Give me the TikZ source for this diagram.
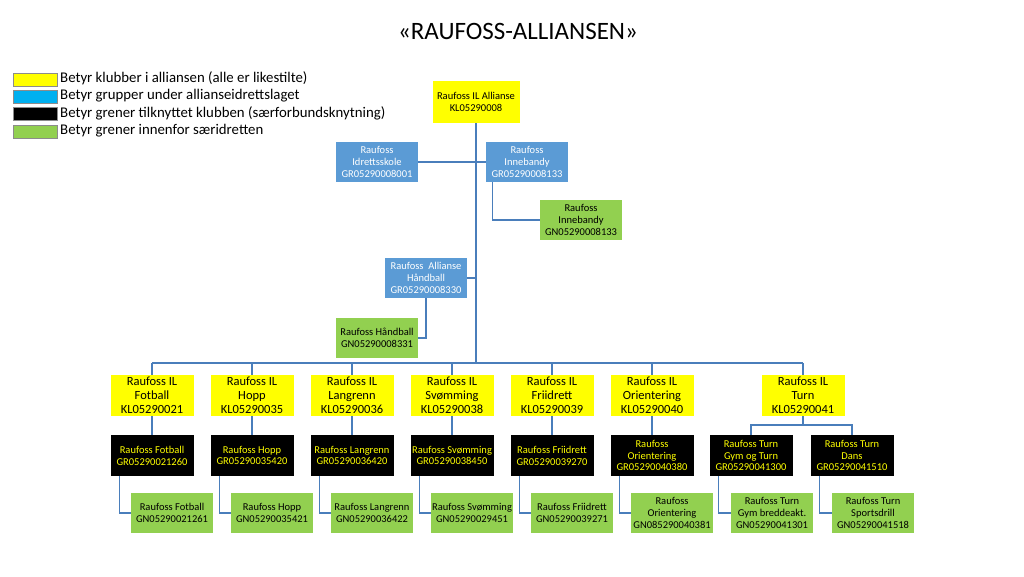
\documentclass[tikz,border=0pt]{standalone}
\usepackage{fontspec}
\setmainfont{Carlito}
\usepackage{xcolor}
\usepackage{tikz}
\usetikzlibrary{positioning,calc}
\definecolor{klubbyellow}{RGB}{255,255,0}
\definecolor{gruppeblue}{RGB}{91,155,213}
\definecolor{legendblue}{RGB}{0,176,240}
\definecolor{grengreen}{RGB}{146,208,80}
\definecolor{linjeblue}{RGB}{74,126,187}

\begin{document}
\begin{tikzpicture}[x=1pt, y=-1pt,
    klubb/.style={fill=klubbyellow, inner sep=0pt, minimum width=83, minimum height=41, align=center, font=\fontsize{12.5}{14}\selectfont},
    gruppe/.style={fill=gruppeblue, text=white, inner sep=0pt, minimum width=82, minimum height=40, align=center, font=\fontsize{10.5}{11.8}\selectfont},
    gren/.style={fill=black, text=klubbyellow, inner sep=0pt, minimum width=83, minimum height=41, align=center, font=\fontsize{10.5}{11.8}\selectfont},
    sgren/.style={fill=grengreen, inner sep=0pt, minimum width=82, minimum height=40, align=center, font=\fontsize{10.5}{11.8}\selectfont},
    swatch/.style={draw=black!45, line width=0.6pt, inner sep=0pt, minimum width=44, minimum height=13},
    legtext/.style={anchor=west, inner sep=0pt, font=\fontsize{14.8}{16}\selectfont},
    conn/.style={draw=linjeblue, line width=1.3pt}]
    \useasboundingbox (0,0) rectangle (1024,576);

    % Title
    \node[font=\fontsize{25}{28}\selectfont] (title) at (518,31) {«RAUFOSS-ALLIANSEN»};

    % Legend
    \node[swatch, fill=klubbyellow] (lega) at (35,80) {};
    \node[swatch, fill=legendblue] (legb) at (35,97) {};
    \node[swatch, fill=black] (legc) at (35,114) {};
    \node[swatch, fill=grengreen] (legd) at (35,131.5) {};
    \node[legtext] (legatxt) at (60,78.5) {Betyr klubber i alliansen (alle er likestilte)};
    \node[legtext] (legbtxt) at (60,96) {Betyr grupper under allianseidrettslaget};
    \node[legtext] (legctxt) at (60,113) {Betyr grener tilknyttet klubben (særforbundsknytning)};
    \node[legtext] (legdtxt) at (60,131) {Betyr grener innenfor særidretten};

    % Alliance and groups
    \node[klubb, minimum width=87, minimum height=42, font=\fontsize{10.5}{11.8}\selectfont] (allianse) at (476,102) {Raufoss IL Allianse\\KL05290008};
    \node[gruppe] (idrett) at (377,162) {Raufoss\\Idrettsskole\\GR05290008001};
    \node[gruppe] (inneb) at (527,162) {Raufoss\\Innebandy\\GR05290008133};
    \node[sgren] (innebgn) at (581,220) {Raufoss\\Innebandy\\GN05290008133};
    \node[gruppe] (handb) at (426,278) {Raufoss\ \ Allianse\\Håndball\\GR05290008330};
    \node[sgren] (handbgn) at (377,338) {Raufoss Håndball\\GN05290008331};

    % Clubs
    \node[klubb] (fotball) at (152,395.5) {Raufoss IL\\Fotball\\KL05290021};
    \node[klubb] (hopp) at (252,395.5) {Raufoss IL\\Hopp\\KL05290035};
    \node[klubb] (langrenn) at (352,395.5) {Raufoss IL\\Langrenn\\KL05290036};
    \node[klubb] (svomming) at (452,395.5) {Raufoss IL\\Svømming\\KL05290038};
    \node[klubb] (friidrett) at (552,395.5) {Raufoss IL\\Friidrett\\KL05290039};
    \node[klubb] (orient) at (652,395.5) {Raufoss IL\\Orientering\\KL05290040};
    \node[klubb] (turn) at (803,395.5) {Raufoss IL\\Turn\\KL05290041};

    % Branches
    \node[gren] (fotballgr) at (152,455.5) {Raufoss Fotball\\GR05290021260};
    \node[gren] (hoppgr) at (252,455.5) {Raufoss Hopp\\GR05290035420};
    \node[gren] (langrenngr) at (352,455.5) {Raufoss Langrenn\\GR05290036420};
    \node[gren] (svomminggr) at (452,455.5) {Raufoss Svømming\\GR05290038450};
    \node[gren] (friidrettgr) at (552,455.5) {Raufoss Friidrett\\GR05290039270};
    \node[gren] (orientgr) at (652,455.5) {Raufoss\\Orientering\\GR05290040380};
    \node[gren] (gymgr) at (751,455.5) {Raufoss Turn\\Gym og Turn\\GR05290041300};
    \node[gren] (dansgr) at (852,455.5) {Raufoss Turn\\Dans\\GR05290041510};

    % Sub-branches
    \node[sgren] (fotballgn) at (172,513) {Raufoss Fotball\\GN05290021261};
    \node[sgren] (hoppgn) at (272,513) {Raufoss Hopp\\GN05290035421};
    \node[sgren] (langrenngn) at (372,513) {Raufoss Langrenn\\GN05290036422};
    \node[sgren] (svomminggn) at (472,513) {Raufoss Svømming\\GN05290029451};
    \node[sgren] (friidrettgn) at (572,513) {Raufoss Friidrett\\GN05290039271};
    \node[sgren] (orientgn) at (672,513) {Raufoss\\Orientering\\GN085290040381};
    \node[sgren] (gymgn) at (772,513) {Raufoss Turn\\Gym breddeakt.\\GN05290041301};
    \node[sgren] (sportsgn) at (873,513) {Raufoss Turn\\Sportsdrill\\GN05290041518};

    % Connectors
    \coordinate (bus) at (476,363);
    \coordinate (turnsplit) at (803,425);
    \draw[conn] (allianse.south) -- (bus);
    \draw[conn] (idrett.east) -- (inneb.west);
    \draw[conn] (handb.east) -- (handb.east -| bus);
    \draw[conn] ([xshift=7]inneb.south west) |- (innebgn.west);
    \draw[conn] (handb.south) |- (handbgn.east);
    \draw[conn] (fotball.north |- bus) -- (turn.north |- bus);
    \foreach \k in {fotball,hopp,langrenn,svomming,friidrett,orient,turn}
        \draw[conn] (\k.north |- bus) -- (\k.north);
    \foreach \k in {fotball,hopp,langrenn,svomming,friidrett,orient}
        \draw[conn] (\k.south) -- (\k gr.north);
    \draw[conn] (turn.south) -- (turnsplit);
    \draw[conn] (gymgr.north) |- (turnsplit) -| (dansgr.north);
    \foreach \k/\g in {fotballgr/fotballgn,hoppgr/hoppgn,langrenngr/langrenngn,svomminggr/svomminggn,friidrettgr/friidrettgn,orientgr/orientgn,gymgr/gymgn,dansgr/sportsgn}
        \draw[conn] ([xshift=9]\k.south west) |- (\g.west);
\end{tikzpicture}
\end{document}
